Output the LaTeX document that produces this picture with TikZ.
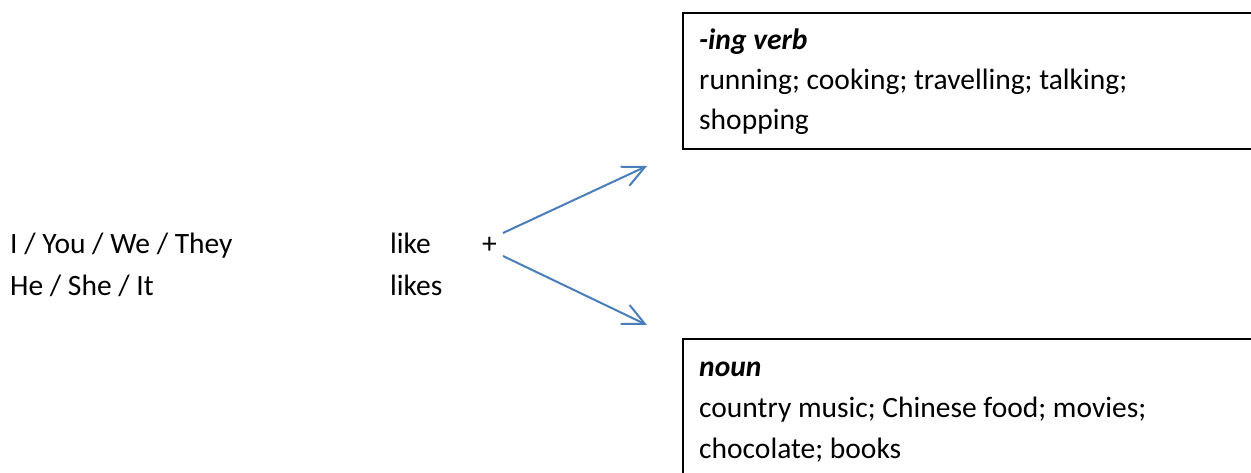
\documentclass[tikz,border=0pt]{standalone}
\usepackage{fontspec}
\setmainfont{Carlito}
\usetikzlibrary{arrows.meta}
\definecolor{arrowblue}{RGB}{74,126,187}
\tikzset{
  txt/.style={anchor=base west, inner sep=0pt, font=\fontsize{29.5}{37}\selectfont},
  frame/.style={draw=black, line width=1.6pt, anchor=north west, inner sep=0pt},
  conn/.style={draw=arrowblue, line width=2pt, -{Straight Barb[length=22pt, width=21pt, line width=2pt]}}
}
\begin{document}
\begin{tikzpicture}[x=1pt, y=-1pt]
\useasboundingbox (0,0) rectangle (1251,473);
\clip (0,0) rectangle (1251,473);
% left texts
\node[txt] (subj1) at (10,254) {I / You / We / They};
\node[txt] (subj2) at (10,296) {He / She / It};
\node[txt] (verb1) at (390,254) {like};
\node[txt] (verb2) at (390,296) {likes};
\node[txt] (plus) at (482,254) {+};
% boxes
\node[frame, minimum width=600pt, minimum height=136pt] (ingbox) at (682,12) {};
\node[frame, minimum width=600pt, minimum height=160pt] (nounbox) at (682,338) {};
\node[txt] (ing1) at (699,50) {\textbf{\textit{-ing verb}}};
\node[txt] (ing2) at (699,90) {running; cooking; travelling; talking;};
\node[txt] (ing3) at (699,130) {shopping};
\node[txt] (noun1) at (699,376) {\textbf{\textit{noun}}};
\node[txt] (noun2) at (699,417) {country music; Chinese food; movies;};
\node[txt] (noun3) at (699,458) {chocolate; books};
% arrows
\coordinate (s1) at (503,233);
\coordinate (e1) at (647,166);
\coordinate (s2) at (503,256);
\coordinate (e2) at (647,325);
\draw[conn] (s1) -- (e1);
\draw[conn] (s2) -- (e2);
\end{tikzpicture}
\end{document}
